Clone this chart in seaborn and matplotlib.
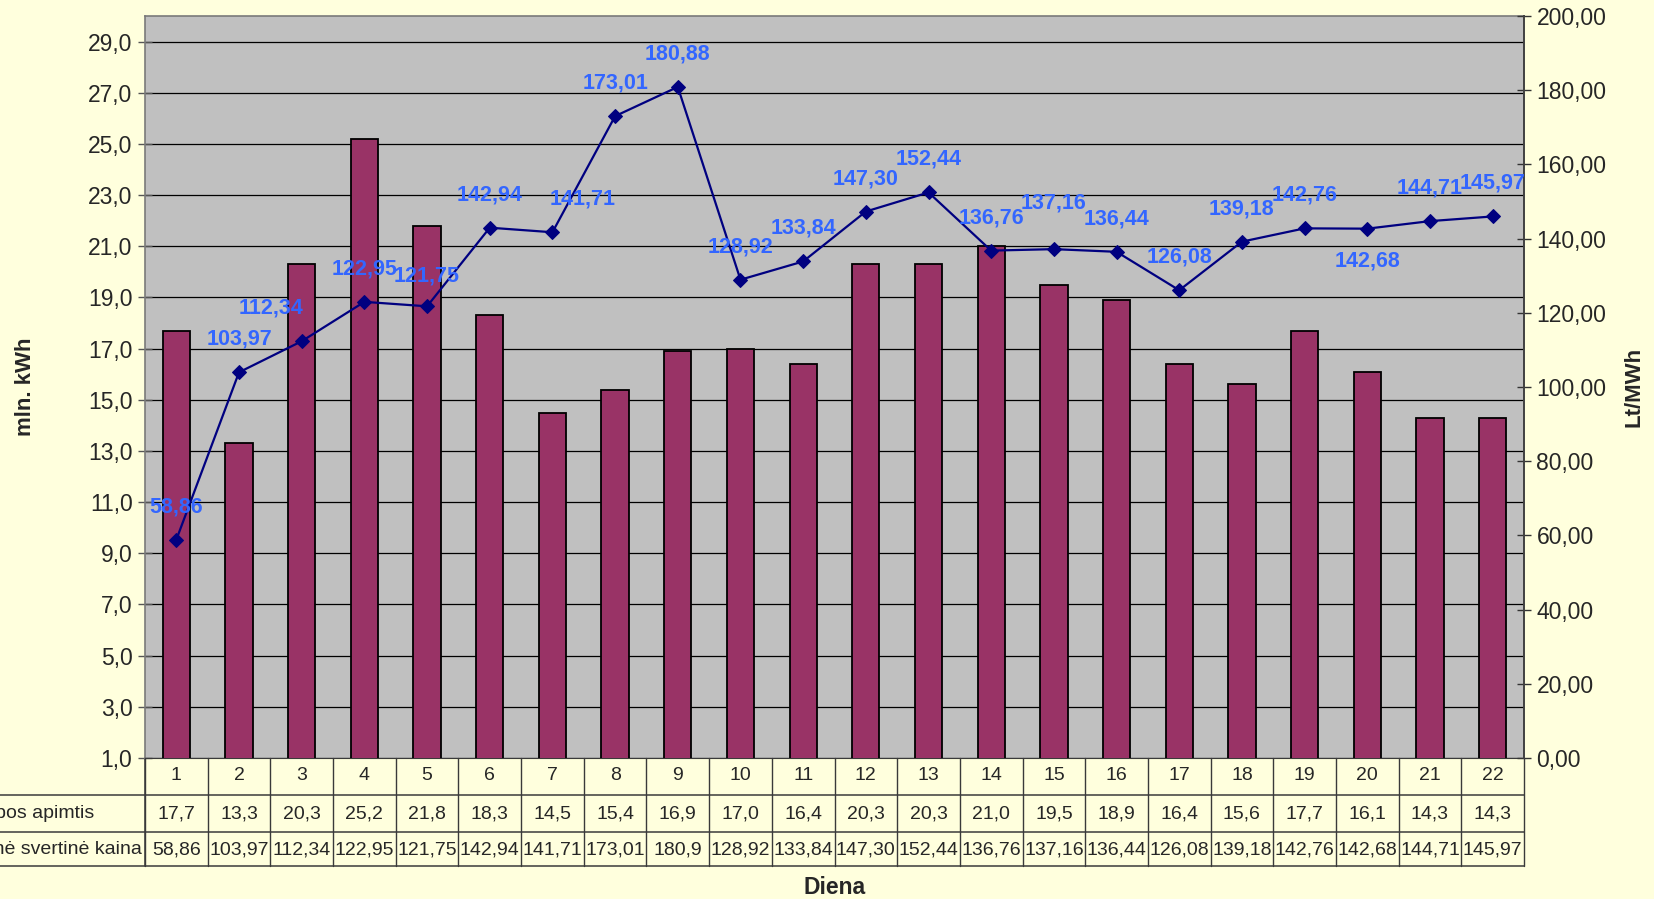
import matplotlib
matplotlib.use("Agg")
import matplotlib.pyplot as plt
import matplotlib.transforms as mtransforms
from matplotlib.lines import Line2D
from matplotlib.ticker import FuncFormatter
import seaborn as sns
import pandas as pd

# ---------------- data ----------------
days = [str(d) for d in range(1, 23)]
volume = [17.7, 13.3, 20.3, 25.2, 21.8, 18.3, 14.5, 15.4, 16.9, 17.0, 16.4,
          20.3, 20.3, 21.0, 19.5, 18.9, 16.4, 15.6, 17.7, 16.1, 14.3, 14.3]
price = [58.86, 103.97, 112.34, 122.95, 121.75, 142.94, 141.71, 173.01, 180.88,
         128.92, 133.84, 147.30, 152.44, 136.76, 137.16, 136.44, 126.08, 139.18,
         142.76, 142.68, 144.71, 145.97]
price_table = ["58,86", "103,97", "112,34", "122,95", "121,75", "142,94", "141,71",
               "173,01", "180,9", "128,92", "133,84", "147,30", "152,44", "136,76",
               "137,16", "136,44", "126,08", "139,18", "142,76", "142,68", "144,71",
               "145,97"]
row_labels = ["Prekybos apimtis", "Vidutinė svertinė kaina"]
x_title = "Diena"
y_left_title = "mln. kWh"
y_right_title = "Lt/MWh"

df = pd.DataFrame({"day": days, "volume": volume, "price": price,
                   "pos": list(range(len(days)))})

# label nudges (pixels) for readability, as in the reference
label_offsets = {2: (-31, 33), 4: (0, 30), 6: (30, 33), 14: (0, 46), 19: (0, -32)}

# ---------------- style ----------------
sns.set_style("white")
plt.rcParams["font.family"] = ["Liberation Sans", "DejaVu Sans"]

FIG_BG = "#FFFFDD"
PLOT_BG = "#C0C0C0"
BAR_C = "#993366"
LINE_C = "#000080"
LABEL_C = "#3366FF"
TABLE_LINE = "#3a3a3a"

fig = plt.figure(figsize=(16.54, 8.99), dpi=100)
fig.patch.set_facecolor(FIG_BG)
ax = fig.add_axes([145 / 1654, 1 - 758 / 899, 1379 / 1654, 742 / 899])
ax.set_facecolor(PLOT_BG)
ax_w = 1379.0
ax_h = 742.0

sns.barplot(data=df, x="day", y="volume", ax=ax, color=BAR_C, width=0.435,
            edgecolor="black", linewidth=1.3, saturation=1, zorder=3)
ax.set_xlim(-0.5, len(days) - 0.5)
ax.set_ylim(1, 30)
ax.set_yticks([1 + 2 * i for i in range(15)])
ax.yaxis.set_major_formatter(FuncFormatter(lambda v, p: f"{v:.1f}".replace(".", ",")))
ax.yaxis.grid(True, color="black", linewidth=0.9)
ax.set_axisbelow(True)
ax.tick_params(axis="y", direction="inout", length=10, width=1, color="#555555",
               labelsize=16.5, pad=4)
ax.tick_params(axis="x", bottom=False, labelbottom=False)
ax.set_xlabel("")
ax.set_ylabel(y_left_title, fontsize=16, fontweight="bold")
ax.yaxis.set_label_coords((36 - 145) / ax_w, 0.5)
for s in ["left", "top"]:
    ax.spines[s].set_color("#7a7a7a")
    ax.spines[s].set_linewidth(1.2)
ax.spines["right"].set_visible(False)
ax.spines["bottom"].set_color(TABLE_LINE)

ax2 = ax.twinx()
sns.lineplot(data=df, x="pos", y="price", ax=ax2, color=LINE_C, linewidth=1.6,
             marker="D", markersize=7, markeredgecolor=LINE_C, zorder=5)
ax2.set_ylim(0, 200)
ax2.set_yticks(list(range(0, 201, 20)))
ax2.yaxis.set_major_formatter(FuncFormatter(lambda v, p: f"{v:.2f}".replace(".", ",")))
ax2.tick_params(axis="y", direction="inout", length=10, width=1, color="#333333",
                labelsize=16.5, pad=4)
ax2.set_ylabel(y_right_title, fontsize=16, fontweight="bold")
ax2.yaxis.set_label_coords((1624 - 145) / ax_w, 0.5)
ax2.set_xlabel("")
ax2.set_xlim(-0.5, len(days) - 0.5)
for s in ["left", "top", "bottom"]:
    ax2.spines[s].set_visible(False)
ax2.spines["right"].set_color("#404040")
ax2.spines["right"].set_linewidth(1.4)

for i, (xp, v) in enumerate(zip(df["pos"], price)):
    dx, dy = label_offsets.get(i, (0, 33))
    ax2.annotate(f"{v:.2f}".replace(".", ","), (xp, v), xytext=(dx, dy),
                 textcoords="offset pixels", ha="center", va="center",
                 color=LABEL_C, fontsize=15.5, fontweight="bold", zorder=6)

# ---------------- data table ----------------
blend = mtransforms.blended_transform_factory(ax.transData, ax.transAxes)
left_edge = -145 / ax_w
row_lines = [-(795 - 758) / ax_h, -(832 - 758) / ax_h, -(866 - 758) / ax_h]
row_centers = [-(776 - 758) / ax_h, -(814 - 758) / ax_h, -(850 - 758) / ax_h]

for yl in row_lines:
    ax.add_line(Line2D([left_edge, 1.0], [yl, yl], transform=ax.transAxes,
                       color=TABLE_LINE, linewidth=1.1, clip_on=False))
ax.add_line(Line2D([0, 0], [0, row_lines[-1]], transform=ax.transAxes,
                   color=TABLE_LINE, linewidth=1.1, clip_on=False))
for k in range(len(days) + 1):
    ax.add_line(Line2D([k - 0.5, k - 0.5], [0, row_lines[-1]], transform=blend,
                       color=TABLE_LINE, linewidth=1.0, clip_on=False))

TFS = 14
for i, d in enumerate(days):
    ax.text(i, row_centers[0], d, transform=blend, ha="center", va="center",
            fontsize=TFS)
    ax.text(i, row_centers[1], f"{volume[i]:.1f}".replace(".", ","), transform=blend,
            ha="center", va="center", fontsize=TFS)
    ax.text(i, row_centers[2], price_table[i], transform=blend, ha="center",
            va="center", fontsize=TFS)

label_x = (-55 - 145) / ax_w
ax.text(label_x, row_centers[1], row_labels[0], transform=ax.transAxes,
        ha="left", va="center", fontsize=TFS)
ax.text(label_x, row_centers[2], row_labels[1], transform=ax.transAxes,
        ha="left", va="center", fontsize=TFS)

ax.text(0.5, -(888 - 758) / ax_h, x_title, transform=ax.transAxes, ha="center",
        va="center", fontsize=16.5, fontweight="bold")

fig.savefig("out.png", dpi=100, facecolor=FIG_BG)
